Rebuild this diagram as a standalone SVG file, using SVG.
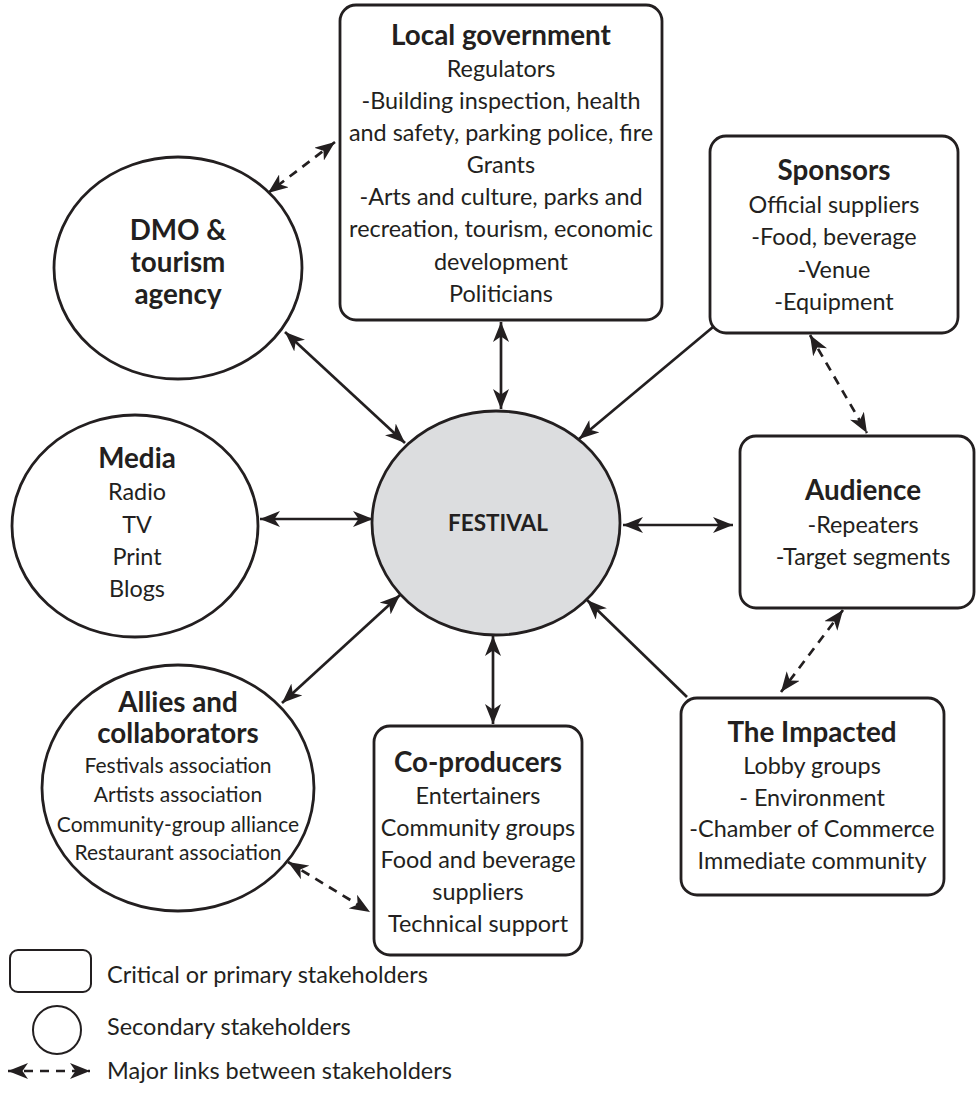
<svg xmlns="http://www.w3.org/2000/svg" width="976" height="1094" viewBox="0 0 976 1094">
  <defs>
    <style>
      .box { fill: #ffffff; stroke: #231f20; stroke-width: 2.8; }
      .hub { fill: #dcdddf; stroke: #231f20; stroke-width: 2.8; }
      .link { stroke: #231f20; stroke-width: 2.7; fill: none; }
      .solid2 { marker-start: url(#head); marker-end: url(#head); }
      .solid1 { marker-end: url(#head); }
      .dash { stroke-dasharray: 9 7; marker-start: url(#head); marker-end: url(#head); }
      text { font-family: Lato, "Open Sans", "Liberation Sans", sans-serif; fill: #231f20; text-anchor: middle; }
      .t { font-weight: bold; font-size: 27.8px; }
      .b { font-size: 23.4px; }
      .s { font-size: 21px; }
      .hubt { font-weight: bold; font-size: 22.5px; }
      .leg { font-size: 23.5px; text-anchor: start; }
    </style>
    <!-- swept arrowhead shared by every connector -->
    <marker id="head" markerUnits="userSpaceOnUse" viewBox="0 0 20 16" refX="20" refY="8" markerWidth="20" markerHeight="16" orient="auto-start-reverse">
      <path d="M0,0 L20,8 L0,16 L5.5,8 Z" fill="#231f20"/>
    </marker>
  </defs>

  <!-- connectors -->
  <g id="connectors">
    <line class="link dash" x1="335" y1="142" x2="268" y2="193"/>
    <line class="link solid2" x1="501" y1="322" x2="501" y2="409"/>
    <line class="link solid1" x1="713" y1="327" x2="579" y2="439"/>
    <line class="link dash" x1="810" y1="335" x2="867" y2="433"/>
    <line class="link solid2" x1="285" y1="332" x2="405" y2="443"/>
    <line class="link solid2" x1="260" y1="519" x2="373" y2="519"/>
    <line class="link solid2" x1="623" y1="525" x2="733" y2="525"/>
    <line class="link solid2" x1="282" y1="703" x2="400" y2="595"/>
    <line class="link solid2" x1="493" y1="636" x2="493" y2="724"/>
    <line class="link solid1" x1="687" y1="697" x2="587" y2="600"/>
    <line class="link dash" x1="843" y1="610" x2="781" y2="692"/>
    <line class="link dash" x1="288" y1="862" x2="370" y2="912"/>
  </g>

  <!-- central festival -->
  <g id="festival">
    <ellipse class="hub" cx="496" cy="523" rx="124" ry="112"/>
    <text class="hubt" x="498" y="531">FESTIVAL</text>
  </g>

  <g id="local-government">
    <rect class="box" x="340" y="5" width="322" height="315" rx="16"/>
    <text class="t" x="501" y="45">Local government</text>
    <text class="b" x="501" y="77">Regulators</text>
    <text class="b" x="501" y="109">-Building inspection, health</text>
    <text class="b" x="501" y="141">and safety, parking police, fire</text>
    <text class="b" x="501" y="173">Grants</text>
    <text class="b" x="501" y="205">-Arts and culture, parks and</text>
    <text class="b" x="501" y="237">recreation, tourism, economic</text>
    <text class="b" x="501" y="270">development</text>
    <text class="b" x="501" y="302">Politicians</text>
  </g>

  <g id="dmo">
    <ellipse class="box" cx="178" cy="268" rx="124" ry="111"/>
    <text class="t" x="178" y="240">DMO &amp;</text>
    <text class="t" x="178" y="272">tourism</text>
    <text class="t" x="178" y="304">agency</text>
  </g>

  <g id="sponsors">
    <rect class="box" x="710" y="136" width="248" height="197" rx="16"/>
    <text class="t" x="834" y="180">Sponsors</text>
    <text class="b" x="834" y="213">Official suppliers</text>
    <text class="b" x="834" y="245">-Food, beverage</text>
    <text class="b" x="834" y="278">-Venue</text>
    <text class="b" x="834" y="310">-Equipment</text>
  </g>

  <g id="media">
    <ellipse class="box" cx="135" cy="526" rx="123" ry="111"/>
    <text class="t" x="137" y="468">Media</text>
    <text class="b" x="137" y="500">Radio</text>
    <text class="b" x="137" y="533">TV</text>
    <text class="b" x="137" y="565">Print</text>
    <text class="b" x="137" y="597">Blogs</text>
  </g>

  <g id="audience">
    <rect class="box" x="740" y="436" width="234" height="172" rx="16"/>
    <text class="t" x="863" y="500">Audience</text>
    <text class="b" x="863" y="533">-Repeaters</text>
    <text class="b" x="863" y="565">-Target segments</text>
  </g>

  <g id="allies">
    <ellipse class="box" cx="178" cy="788" rx="136" ry="123"/>
    <text class="t" x="178" y="712">Allies and</text>
    <text class="t" x="178" y="743">collaborators</text>
    <text class="s" x="178" y="773">Festivals association</text>
    <text class="s" x="178" y="802">Artists association</text>
    <text class="s" x="178" y="832">Community-group alliance</text>
    <text class="s" x="178" y="860">Restaurant association</text>
  </g>

  <g id="co-producers">
    <rect class="box" x="374" y="726" width="208" height="229" rx="16"/>
    <text class="t" x="478" y="772">Co-producers</text>
    <text class="b" x="478" y="804">Entertainers</text>
    <text class="b" x="478" y="836">Community groups</text>
    <text class="b" x="478" y="868">Food and beverage</text>
    <text class="b" x="478" y="900">suppliers</text>
    <text class="b" x="478" y="932">Technical support</text>
  </g>

  <g id="impacted">
    <rect class="box" x="681" y="698" width="263" height="197" rx="16"/>
    <text class="t" x="812" y="742">The Impacted</text>
    <text class="b" x="812" y="774">Lobby groups</text>
    <text class="b" x="812" y="806">- Environment</text>
    <text class="b" x="812" y="837">-Chamber of Commerce</text>
    <text class="b" x="812" y="869">Immediate community</text>
  </g>

  <!-- key -->
  <g id="legend">
    <rect class="box" x="10" y="950" width="81" height="42" rx="8" style="stroke-width:2"/>
    <text class="leg" x="107" y="983">Critical or primary stakeholders</text>
    <circle class="box" cx="57" cy="1030" r="24" style="stroke-width:2"/>
    <text class="leg" x="107" y="1035">Secondary stakeholders</text>
    <line class="link dash" x1="8" y1="1071" x2="90" y2="1071"/>
    <text class="leg" x="107" y="1079">Major links between stakeholders</text>
  </g>
</svg>
